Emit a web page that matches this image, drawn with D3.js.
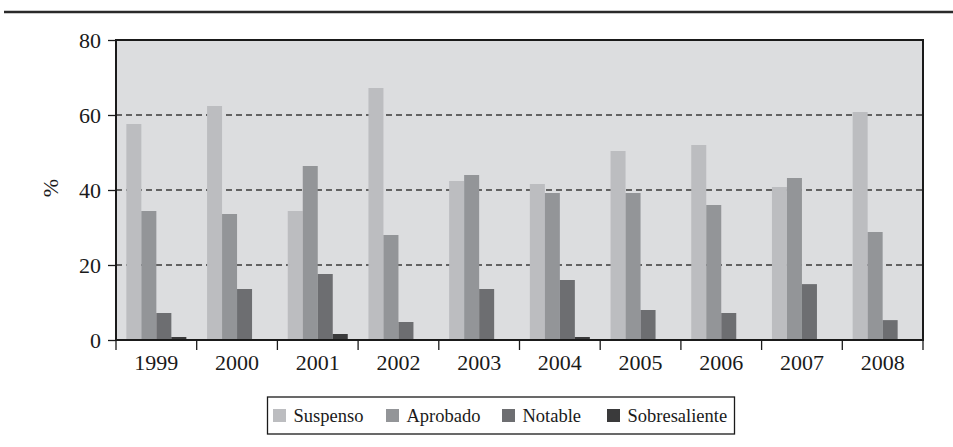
<!DOCTYPE html>
<html><head><meta charset="utf-8">
<script src="https://cdn.jsdelivr.net/npm/d3@7"></script>
<style>body{margin:0;background:#fff}svg{display:block}</style>
</head><body>
<script>
const years = ["1999","2000","2001","2002","2003","2004","2005","2006","2007","2008"];
const seriesNames = ["Suspenso","Aprobado","Notable","Sobresaliente"];
const suspenso = [57.6,62.4,34.4,67.2,42.4,41.6,50.4,52.0,40.8,60.8];
const aprobado = [34.4,33.6,46.4,28.0,44.0,39.2,39.2,36.0,43.2,28.8];
const notable = [7.2,13.6,17.6,4.8,13.6,16.0,8.0,7.2,14.9,5.3];
const sobresaliente = [0.8,0,1.6,0,0,0.8,0,0,0,0];
const yTicks = [0,20,40,60,80];
const colors = ["#bcbdc0","#939598","#6d6e71","#3a3a3b"];
const seriesValues = [suspenso, aprobado, notable, sobresaliente];

const W = 953, H = 447;
const svg = d3.select("body").append("svg").attr("width", W).attr("height", H);
const font = "'Liberation Serif','Times New Roman',serif";

// top rule
svg.append("line").attr("x1",4).attr("x2",953).attr("y1",12).attr("y2",12)
  .attr("stroke","#2a2a2a").attr("stroke-width",2.5);

const m = {l:116, r:923, t:40, b:340};
const x = d3.scaleBand().domain(years).range([m.l, m.r]).paddingInner(0).paddingOuter(0);
const xi = d3.scaleBand().domain(seriesNames).range([0, x.bandwidth()]).paddingOuter(0.69).paddingInner(0);
const y = d3.scaleLinear().domain([0,80]).range([m.b, m.t]);

svg.append("rect").attr("x",m.l).attr("y",m.t).attr("width",m.r-m.l).attr("height",m.b-m.t).attr("fill","#dcdddf");

// gridlines
svg.append("g").selectAll("line").data(yTicks.filter(d=>d>0&&d<80)).join("line")
  .attr("x1",m.l).attr("x2",m.r).attr("y1",d=>y(d)).attr("y2",d=>y(d))
  .attr("stroke","#3a3a3a").attr("stroke-width",1.3).attr("stroke-dasharray","6,4");

// bars
const g = svg.append("g");
years.forEach((yr,i)=>{
  seriesNames.forEach((s,j)=>{
    const v = seriesValues[j][i];
    if (v<=0) return;
    g.append("rect").attr("x", x(yr)+xi(s)).attr("width", xi.bandwidth())
      .attr("y", y(v)).attr("height", y(0)-y(v)).attr("fill", colors[j]);
  });
});

// frame
svg.append("rect").attr("x",m.l).attr("y",m.t).attr("width",m.r-m.l).attr("height",m.b-m.t)
  .attr("fill","none").attr("stroke","#1a1a1a").attr("stroke-width",2);

// y axis
const ya = svg.append("g").attr("transform",`translate(${m.l},0)`)
  .call(d3.axisLeft(y).tickValues(yTicks).tickSize(8).tickPadding(7).tickFormat(d3.format("d")));
ya.select(".domain").remove();
ya.selectAll("line").attr("stroke","#1a1a1a").attr("stroke-width",1.3);
ya.selectAll("text").attr("font-family",font).attr("font-size",22).attr("fill","#1a1a1a");

// x axis
const xa = svg.append("g").attr("transform",`translate(0,${m.b})`)
  .call(d3.axisBottom(x).tickSize(0).tickPadding(14));
xa.select(".domain").remove();
xa.selectAll("text").attr("font-family",font).attr("font-size",22).attr("fill","#1a1a1a");
const edges = years.map(d=>x(d)).concat([m.r]);
svg.append("g").selectAll("line").data(edges).join("line")
  .attr("x1",d=>d).attr("x2",d=>d).attr("y1",m.b).attr("y2",m.b+10)
  .attr("stroke","#1a1a1a").attr("stroke-width",1.3);

// y label
svg.append("text").attr("transform","translate(58,188) rotate(-90)")
  .attr("text-anchor","middle").attr("font-family",font).attr("font-size",22).attr("fill","#1a1a1a").text("%");

// legend
const lg = svg.append("g");
lg.append("rect").attr("x",267.5).attr("y",397).attr("width",467).attr("height",37)
  .attr("fill","#fff").attr("stroke","#1a1a1a").attr("stroke-width",1.3);
const lx = [273, 386, 502, 607];
seriesNames.forEach((s,j)=>{
  lg.append("rect").attr("x",lx[j]).attr("y",409).attr("width",13).attr("height",13).attr("fill",colors[j]);
  lg.append("text").attr("x",lx[j]+20.5).attr("y",422).attr("font-family",font).attr("font-size",18.5)
    .attr("fill","#1a1a1a").text(s);
});
</script>
</body></html>
